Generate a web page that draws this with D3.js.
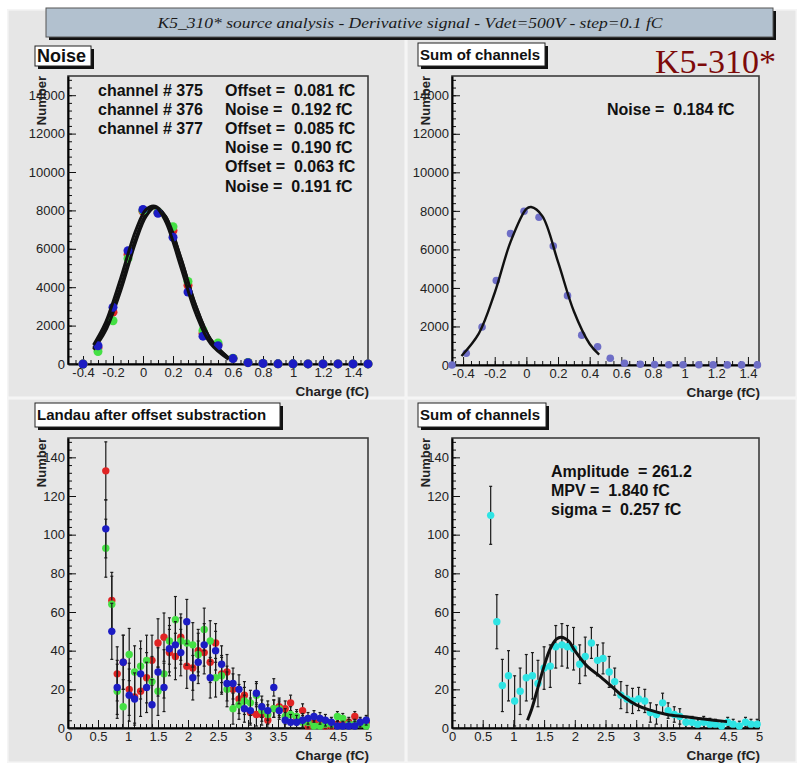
<!DOCTYPE html>
<html>
<head>
<meta charset="utf-8">
<script src="https://cdn.jsdelivr.net/npm/d3@7"></script>
<style>
  body { margin: 0; background: #fff; }
  svg { display: block; }
  text { font-family: "Liberation Sans", Arial, sans-serif; }
</style>
</head>
<body>
<svg id="chart" width="805" height="782"></svg>
<script>
// ---- data ----
const noiseBins  = [-0.4,-0.3,-0.2,-0.1,0,0.1,0.2,0.3,0.4,0.5,0.6,0.7,0.8,0.9,1.0,1.1,1.2,1.3,1.4,1.5];
const noiseRed   = [0,850,2700,5700,7950,7900,6950,4100,1600,1000,290,80,30,10,10,5,5,5,5,5];
const noiseGreen = [0,650,2250,5500,8000,7900,7150,4300,1750,1100,300,80,30,10,10,5,5,5,5,5];
const noiseBlue  = [0,950,2950,5900,8050,7850,6600,3750,1450,950,280,70,30,10,10,5,5,5,5,5];

const noiseFitX  = [-0.33,-0.25,-0.15,-0.05,0.02,0.08,0.15,0.25,0.35,0.45,0.57];
const noiseFit1  = [829,1856,3977,6497,7797,8200,7687,5566,3073,1293,320];
const noiseFit2  = [751,1722,3792,6332,7687,8149,7687,5590,3081,1288,313];
const noiseFit3  = [993,2154,4429,6926,8044,8217,7437,5108,2668,1059,243];

const noiseText = ["channel # 375","channel # 376","channel # 377"];
const noiseStats = ["Offset =  0.081 fC","Noise =  0.192 fC","Offset =  0.085 fC",
                    "Noise =  0.190 fC","Offset =  0.063 fC","Noise =  0.191 fC"];

const sumBins = [-0.47,-0.38,-0.28,-0.19,-0.10,-0.015,0.08,0.17,0.26,0.35,0.45,0.53,0.62,0.72,0.81,0.90,0.99,1.09,1.18,1.27,1.36,1.46];
const sumVals = [0,610,1970,4380,6820,7980,7670,6170,3600,1550,950,350,90,40,20,15,10,10,5,5,5,5];
const sumFitX = [-0.41,-0.3,-0.2,-0.1,0,0.03,0.1,0.2,0.3,0.4,0.46];
const sumFitY = [470,1640,3750,6390,8100,8200,7740,5350,2790,1090,535];

const landauBins = [0.63,0.73,0.82,0.92,1.02,1.11,1.21,1.31,1.40,1.50,1.60,1.69,1.79,1.88,1.98,2.08,
  2.17,2.27,2.37,2.46,2.56,2.65,2.75,2.85,2.94,3.04,3.14,3.23,3.33,3.43,3.52,3.62,3.71,3.81,3.91,
  4.00,4.10,4.20,4.29,4.39,4.49,4.58,4.68,4.78,4.87,4.97];
const landauRed   = [133,66,28,34,20,16,19,26,35,44,47,39,37,47,32,31,40,39,34,44,28,29,20,15,17,8,7,7,4,10,11,10,13,5,9,1,3,2,1,1,2,2,3,6,2,3];
const landauGreen = [93,64,19,11,38,29,32,35,24,19,28,45,56,45,44,43,38,51,45,26,27,20,10,12,14,13,17,9,7,10,10,6,7,6,3,3,1,1,2,2,6,5,2,2,2,1];
const landauBlue  = [103,50,21,34,17,15,28,21,12,29,21,41,43,39,55,26,34,43,26,40,33,23,23,20,10,9,18,11,9,21,9,4,3,3,4,5,6,5,4,3,1,1,1,1,3,4];
const landauErr   = [15,14.5,14,14,13.5,13.5,13,13,13,12.5,12.5,12,12,12,11.5,11.5,11,11,10.5,10,9.5,9,8,7.5,7,6.5,6,5.5,5,4.5,4.5,4,4,3.5,3.5,3,3,3,3,2.5,2.5,2.5,2.5,2.5,2.5,2.5];

const sumLandau    = [110,55,22,27,14,19,26,27,23,31,32,42,43,42,41,33,37,44,35,36,29,24,17,15,14,15,14,8,7,13,9,7,6,3,3,2,3,2,2,1,3,2,1,3,2,2];
const sumLandauErr = [15,14,13.5,13,13,12,12,12,12,11,11,11,11,11,11,10,10,8,8,8,8,7,7,7,6.5,6,6,5,5,5,4,4,4,3,3,3,3,3,2.5,2.5,2.5,2.5,2.5,2.5,2.5,2.5];
const landauFitX = [1.23,1.3,1.4,1.5,1.6,1.7,1.78,1.9,2.0,2.2,2.4,2.6,2.8,3.0,3.2,3.5,3.8,4.1,4.48];
const landauFitY = [4,10,21,32,41,46,47,45,40,32,27,21.5,16,12,9.5,7,5.8,4.6,3.3];
const landauStats = ["Amplitude  = 261.2","MPV =  1.840 fC","sigma =  0.257 fC"];

const noiseYTicks  = [0,2000,4000,6000,8000,10000,12000,14000];
const noiseXTicks  = [-0.4,-0.2,0,0.2,0.4,0.6,0.8,1,1.2,1.4];
const landauYTicks = [0,20,40,60,80,100,120,140];
const landauXTicks = [0,0.5,1,1.5,2,2.5,3,3.5,4,4.5,5];

// ---- drawing ----
const svg = d3.select('#chart');
const padFill = '#e6e6e6';
const fmt = d => String(+d.toFixed(2));

svg.append('rect').attr('x', 7).attr('y', 9).attr('width', 790).attr('height', 754).attr('fill', '#f3f3f3');
[[8, 10, 397, 387], [407, 10, 389, 387], [8, 399, 397, 363], [407, 399, 389, 363]].forEach(p => {
  svg.append('rect').attr('x', p[0]).attr('y', p[1]).attr('width', p[2]).attr('height', p[3])
    .attr('fill', padFill).attr('stroke', '#f7f7f7').attr('stroke-width', 1);
});

// title bar
svg.append('rect').attr('x', 49).attr('y', 11).attr('width', 727).attr('height', 29).attr('fill', '#111');
svg.append('rect').attr('x', 46).attr('y', 8).attr('width', 727).attr('height', 29)
  .attr('fill', '#b2c1cf').attr('stroke', '#555').attr('stroke-width', 1);
svg.append('text').attr('x', 410).attr('y', 28).attr('text-anchor', 'middle')
  .style('font-family', '"Liberation Serif", "Times New Roman", serif').style('font-style', 'italic')
  .attr('font-size', 15).attr('textLength', 505).attr('lengthAdjust', 'spacingAndGlyphs').attr('fill', '#1a1a1a')
  .text('K5_310* source analysis - Derivative signal - Vdet=500V - step=0.1 fC');

svg.append('text').attr('x', 655).attr('y', 73)
  .style('font-family', '"Liberation Serif", "Times New Roman", serif')
  .attr('font-size', 34).attr('fill', '#7d0a0a').text('K5-310*');

function labelBox(x, y, w, h, txt, size) {
  svg.append('rect').attr('x', x + 3).attr('y', y + 3).attr('width', w).attr('height', h).attr('fill', '#111');
  svg.append('rect').attr('x', x).attr('y', y).attr('width', w).attr('height', h)
    .attr('fill', '#fff').attr('stroke', '#222').attr('stroke-width', 1);
  svg.append('text').attr('x', x + 2).attr('y', y + h / 2 + size * 0.36)
    .attr('font-size', size).attr('font-weight', 'bold').attr('fill', '#111').text(txt);
}

function panel(p) {
  const x = d3.scaleLinear().domain(p.xDomain).range([p.left, p.right]);
  const y = d3.scaleLinear().domain(p.yDomain).range([p.bottom, p.top]).clamp(true);
  const g = svg.append('g');

  g.append('rect').attr('x', p.left).attr('y', p.top)
    .attr('width', p.right - p.left).attr('height', p.bottom - p.top)
    .attr('fill', padFill).attr('stroke', '#3c3c3c').attr('stroke-width', 1.6);

  const style = sel => {
    sel.attr('font-size', 13).attr('font-family', '"Liberation Sans", Arial, sans-serif');
    sel.selectAll('line').attr('stroke', '#111');
    sel.selectAll('text').attr('fill', '#222');
  };
  const noDomain = sel => sel.select('.domain').remove();

  g.append('g').attr('transform', `translate(0,${p.bottom})`)
    .call(d3.axisBottom(x).tickValues(p.xMinor).tickSize(-4).tickSizeOuter(0).tickFormat(''))
    .call(noDomain).call(style);
  g.append('g').attr('transform', `translate(${p.left},0)`)
    .call(d3.axisLeft(y).tickValues(p.yMinor).tickSize(-4).tickSizeOuter(0).tickFormat(''))
    .call(noDomain).call(style);

  g.append('g').attr('transform', `translate(0,${p.bottom})`)
    .call(d3.axisBottom(x).tickValues(p.xTicks).tickSize(-8).tickSizeOuter(0).tickPadding(4).tickFormat(fmt))
    .call(style)
    .call(s => s.select('.domain').attr('stroke', '#000').attr('stroke-width', 2.2));
  g.append('g').attr('transform', `translate(${p.left},0)`)
    .call(d3.axisLeft(y).tickValues(p.yTicks).tickSize(-8).tickSizeOuter(0).tickPadding(3).tickFormat(fmt))
    .call(style)
    .call(s => s.select('.domain').attr('stroke', '#000').attr('stroke-width', 2));

  g.append('text').attr('x', p.right + 1).attr('y', p.bottom + 32).attr('text-anchor', 'end')
    .attr('font-size', 13.5).attr('font-weight', 'bold').attr('fill', '#222').text('Charge (fC)');
  g.append('text').attr('transform', `translate(${p.left - 22},${p.top}) rotate(-90)`)
    .attr('text-anchor', 'end').attr('font-size', 13).attr('font-weight', 'bold').attr('fill', '#222')
    .text('Number');

  return { g, x, y };
}

function points(P, xs, ys, color, r, errs) {
  const d = xs.map((v, i) => ({ x: v, y: ys[i], e: errs ? errs[i] : 0 }));
  if (errs) {
    const eg = P.g.append('g').attr('stroke', '#1a1a1a').attr('stroke-width', 1.2);
    eg.selectAll('line.bar').data(d).join('line').attr('class', 'bar')
      .attr('x1', q => P.x(q.x)).attr('x2', q => P.x(q.x))
      .attr('y1', q => P.y(q.y - q.e)).attr('y2', q => P.y(q.y + q.e));
    eg.selectAll('line.cap-hi').data(d).join('line').attr('class', 'cap-hi')
      .attr('x1', q => P.x(q.x) - 1.5).attr('x2', q => P.x(q.x) + 1.5)
      .attr('y1', q => P.y(q.y + q.e)).attr('y2', q => P.y(q.y + q.e));
    eg.selectAll('line.cap-lo').data(d).join('line').attr('class', 'cap-lo')
      .attr('x1', q => P.x(q.x) - 1.5).attr('x2', q => P.x(q.x) + 1.5)
      .attr('y1', q => P.y(q.y - q.e)).attr('y2', q => P.y(q.y - q.e));
  }
  P.g.append('g').selectAll('circle').data(d).join('circle')
    .attr('cx', q => P.x(q.x)).attr('cy', q => P.y(q.y)).attr('r', r).attr('fill', color);
}

function fitLine(P, xs, ys, width) {
  const line = d3.line().x(d => P.x(d[0])).y(d => P.y(d[1])).curve(d3.curveCatmullRom);
  P.g.append('path').datum(xs.map((v, i) => [v, ys[i]]))
    .attr('fill', 'none').attr('stroke', '#111').attr('stroke-width', width)
    .attr('stroke-linejoin', 'round').attr('d', line);
}

function statText(x, y0, dy, lines) {
  lines.forEach((t, i) => svg.append('text').attr('x', x).attr('y', y0 + i * dy)
    .attr('font-size', 16).attr('font-weight', 'bold').attr('fill', '#111')
    .style('white-space', 'pre').text(t));
}

const red = '#e02424', green = '#44e044', blue = '#1c1cc4', slate = '#6e6ec6', cyan = '#2ee4e4';

// top left: noise
const TL = panel({ left: 68, right: 368, top: 76, bottom: 364, xDomain: [-0.5, 1.5], yDomain: [0, 15000],
  xTicks: noiseXTicks, yTicks: noiseYTicks, xMinor: d3.range(-0.5, 1.5001, 0.05), yMinor: d3.range(0, 15001, 400) });
points(TL, noiseBins, noiseRed, red, 4.5);
fitLine(TL, noiseFitX, noiseFit1, 3);
points(TL, noiseBins, noiseGreen, green, 4.5);
fitLine(TL, noiseFitX, noiseFit2, 3);
points(TL, noiseBins, noiseBlue, blue, 4.5);
fitLine(TL, noiseFitX, noiseFit3, 3);
statText(98, 95.5, 19.2, noiseText);
statText(225, 95.5, 19.2, noiseStats);

// top right: sum of channels
const TR = panel({ left: 452, right: 759, top: 76, bottom: 365, xDomain: [-0.47, 1.47], yDomain: [0, 15000],
  xTicks: noiseXTicks, yTicks: noiseYTicks, xMinor: d3.range(-0.45, 1.4701, 0.05), yMinor: d3.range(0, 15001, 400) });
points(TR, sumBins, sumVals, slate, 3.8);
fitLine(TR, sumFitX, sumFitY, 2.4);
statText(607, 115, 19, ["Noise =  0.184 fC"]);

// bottom left: landau per channel
const BL = panel({ left: 68, right: 368, top: 438, bottom: 728, xDomain: [0, 5], yDomain: [0, 150],
  xTicks: landauXTicks, yTicks: landauYTicks, xMinor: d3.range(0, 5.001, 0.1), yMinor: d3.range(0, 150.1, 4) });
points(BL, landauBins, landauRed, red, 3.7, landauErr);
points(BL, landauBins, landauGreen, green, 3.7, landauErr);
points(BL, landauBins, landauBlue, blue, 3.7, landauErr);

// bottom right: landau sum
const BR = panel({ left: 452, right: 759, top: 438, bottom: 728, xDomain: [0, 5], yDomain: [0, 150],
  xTicks: landauXTicks, yTicks: landauYTicks, xMinor: d3.range(0, 5.001, 0.1), yMinor: d3.range(0, 150.1, 4) });
points(BR, landauBins, sumLandau, cyan, 3.7, sumLandauErr);
fitLine(BR, landauFitX, landauFitY, 3);
statText(551, 476.5, 19, landauStats);

// pad titles
labelBox(35, 46, 56, 20, 'Noise', 18);
labelBox(418, 43, 127, 23, 'Sum of channels', 15);
labelBox(35, 403, 245, 24, 'Landau after offset substraction', 15);
labelBox(418, 403, 128, 24, 'Sum of channels', 15);
</script>
</body>
</html>
